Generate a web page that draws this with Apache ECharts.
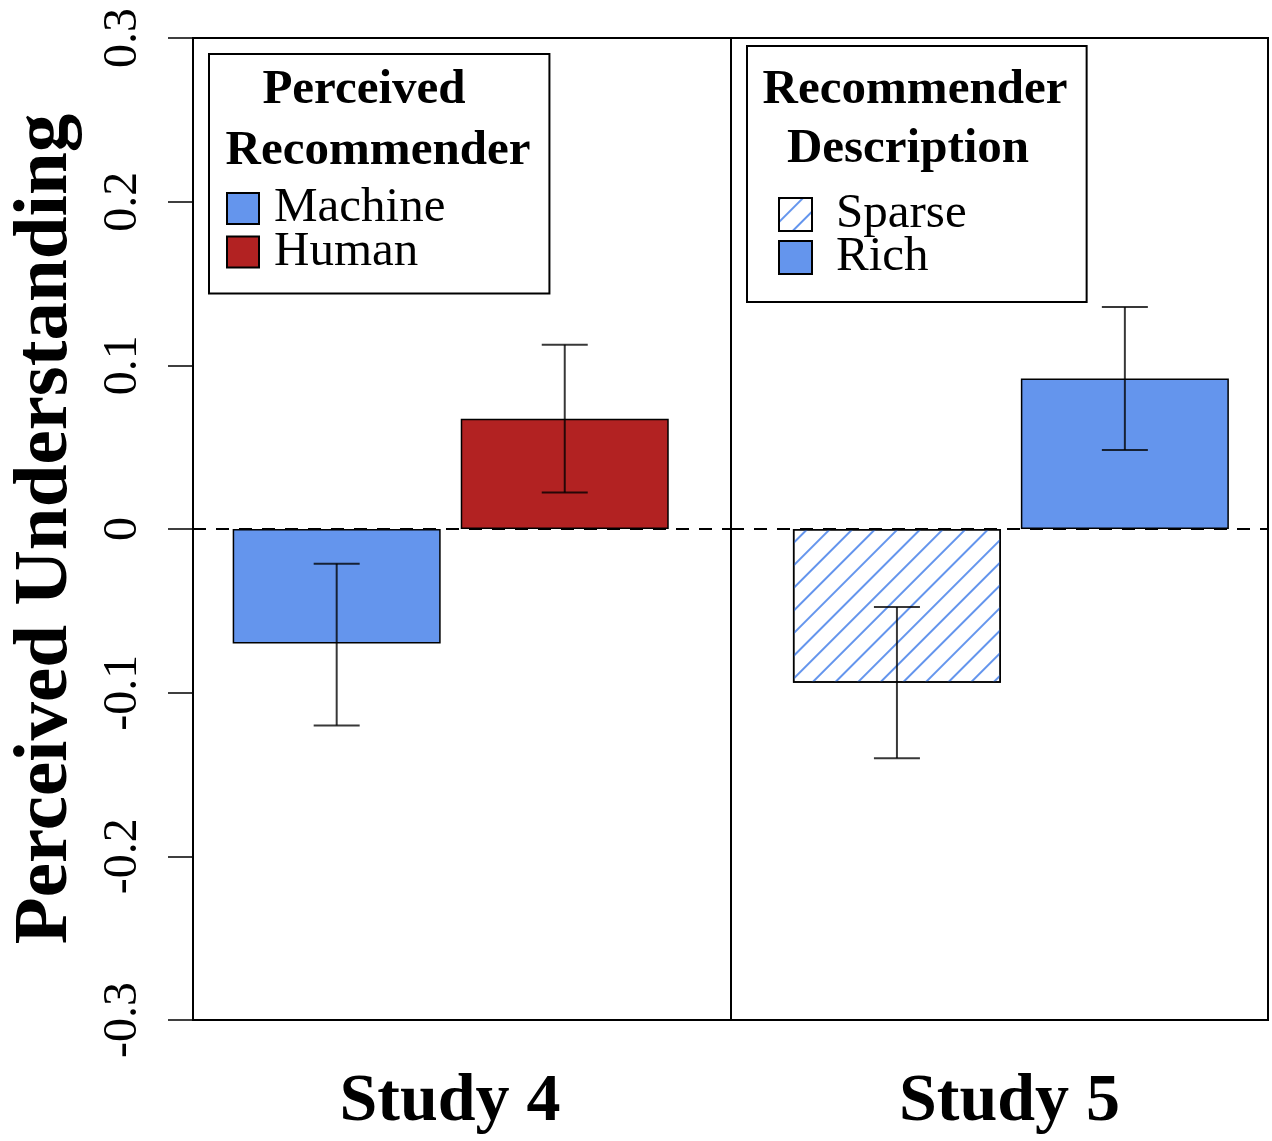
<!DOCTYPE html>
<html>
<head>
<meta charset="utf-8">
<script src="https://cdn.jsdelivr.net/npm/echarts@6/dist/echarts.min.js"></script>
<style>
  html, body { margin: 0; padding: 0; background: #fff; }
  #main { width: 1272px; height: 1141px; }
</style>
</head>
<body>
<div id="main"></div>
<script>
// values (mean and error bar ends)
const studies = ['Study 4', 'Study 5'];
const barPos = [1, 2];
const s4Groups = ['Machine', 'Human'];
const s4Means = [-0.0699, 0.0674];
const s4Lower = [-0.120, 0.0223];
const s4Upper = [-0.0212, 0.1126];
const s5Groups = ['Sparse', 'Rich'];
const s5Means = [-0.0939, 0.0920];
const s5Lower = [-0.140, 0.0483];
const s5Upper = [-0.0477, 0.1356];
const yTicks = [-0.3, -0.2, -0.1, 0, 0.1, 0.2, 0.3];

const SERIF = '"Liberation Serif", "Times New Roman", serif';
const BLUE = '#6495ED';
const RED = '#B22222';

const hatch = {
  symbol: 'rect',
  symbolSize: 1,
  color: BLUE,
  dashArrayX: [1, 0],
  dashArrayY: [2, 14],
  rotation: -Math.PI / 4
};

const myChart = echarts.init(document.getElementById('main'));

// 误差线
function errorSeries(name, gi, means, lo, hi) {
  return {
    name: name,
    type: 'custom',
    xAxisIndex: gi,
    yAxisIndex: gi,
    z: 5,
    silent: true,
    data: barPos.map((p, i) => [p, lo[i], hi[i]]),
    renderItem: function (params, api) {
      const low = api.coord([api.value(0), api.value(1)]);
      const high = api.coord([api.value(0), api.value(2)]);
      const hw = 23;
      const style = { stroke: 'rgba(0,0,0,0.78)', lineWidth: 2 };
      return {
        type: 'group',
        children: [
          { type: 'line', shape: { x1: low[0], y1: low[1], x2: high[0], y2: high[1] }, style: style },
          { type: 'line', shape: { x1: low[0] - hw, y1: low[1], x2: low[0] + hw, y2: low[1] }, style: style },
          { type: 'line', shape: { x1: high[0] - hw, y1: high[1], x2: high[0] + hw, y2: high[1] }, style: style }
        ]
      };
    }
  };
}

function barSeries(name, gi, idx, value, style, withZero) {
  const s = {
    name: name,
    type: 'bar',
    xAxisIndex: gi,
    yAxisIndex: gi,
    barWidth: 208,
    barGap: '-100%',
    data: [[barPos[idx], value]],
    itemStyle: Object.assign({ borderColor: '#000', borderWidth: 1.5 }, style),
    silent: true
  };
  if (withZero) {
    s.markLine = {
      silent: true,
      symbol: 'none',
      label: { show: false },
      lineStyle: { color: '#000', type: [13, 10], width: 2 },
      data: [{ yAxis: 0 }],
      z: 10
    };
  }
  return s;
}

function yAxis(gi, visible) {
  return {
    gridIndex: gi,
    type: 'value',
    min: yTicks[0],
    max: yTicks[yTicks.length - 1],
    interval: 0.1,
    show: visible,
    name: visible ? 'Perceived Understanding' : '',
    nameLocation: 'middle',
    nameRotate: 90,
    nameGap: 108,
    nameTextStyle: { fontFamily: SERIF, fontWeight: 'bold', fontSize: 77, color: '#000' },
    axisLine: { show: true, lineStyle: { color: '#000', width: 2 } },
    axisTick: { show: true, length: 25, lineStyle: { color: '#000', width: 1.5 } },
    axisLabel: {
      rotate: 90,
      margin: 46,
      fontFamily: SERIF,
      fontSize: 48,
      color: '#000',
      formatter: v => (Math.abs(v) < 1e-9 ? '0' : String(Math.round(v * 10) / 10))
    },
    splitLine: { show: false }
  };
}

function xAxis(gi, min, max, name, pad) {
  return {
    gridIndex: gi,
    type: 'value',
    min: min,
    max: max,
    name: name,
    nameLocation: 'middle',
    nameGap: 48,
    nameTextStyle: { fontFamily: SERIF, fontWeight: 'bold', fontSize: 68, color: '#000', padding: pad },
    axisLine: { show: false },
    axisTick: { show: false },
    axisLabel: { show: false },
    splitLine: { show: false }
  };
}

const legendText = { fontFamily: SERIF, fontSize: 49, color: '#000' };

const option = {
  animation: false,
  backgroundColor: '#fff',
  grid: [
    { left: 193, top: 38, width: 538, height: 983, show: true, borderColor: '#000', borderWidth: 2, backgroundColor: 'transparent' },
    { left: 731, top: 38, width: 537, height: 983, show: true, borderColor: '#000', borderWidth: 2, backgroundColor: 'transparent' }
  ],
  xAxis: [
    xAxis(0, 0.370, 2.729, studies[0], [0, 24, 0, 0]),
    xAxis(1, 0.272, 2.628, studies[1], [0, 0, 0, 20])
  ],
  yAxis: [yAxis(0, true), yAxis(1, false)],
  legend: [
    {
      data: s4Groups,
      orient: 'vertical',
      left: 209,
      top: 54,
      padding: [130, 104, 17, 17],
      borderColor: '#000',
      borderWidth: 2,
      itemWidth: 32,
      itemHeight: 31,
      itemGap: -5.5,
      selectedMode: false,
      icon: 'rect',
      textStyle: Object.assign({ lineHeight: 43.5, padding: [0, 0, 0, 10] }, legendText)
    },
    {
      data: s5Groups,
      orient: 'vertical',
      left: 747,
      top: 46,
      padding: [144, 120, 20, 31],
      borderColor: '#000',
      borderWidth: 2,
      itemWidth: 33,
      itemHeight: 33,
      itemGap: -6,
      selectedMode: false,
      icon: 'rect',
      textStyle: Object.assign({ lineHeight: 43, padding: [0, 0, 0, 19] }, legendText)
    }
  ],
  graphic: [
    { type: 'text', x: 364, y: 90, style: { text: 'Perceived', font: 'bold 49px ' + SERIF, align: 'center', verticalAlign: 'middle', fill: '#000' } },
    { type: 'text', x: 378, y: 151, style: { text: 'Recommender', font: 'bold 49px ' + SERIF, align: 'center', verticalAlign: 'middle', fill: '#000' } },
    { type: 'text', x: 915, y: 90, style: { text: 'Recommender', font: 'bold 49px ' + SERIF, align: 'center', verticalAlign: 'middle', fill: '#000' } },
    { type: 'text', x: 908, y: 149, style: { text: 'Description', font: 'bold 49px ' + SERIF, align: 'center', verticalAlign: 'middle', fill: '#000' } }
  ],
  series: [
    barSeries(s4Groups[0], 0, 0, s4Means[0], { color: BLUE }, true),
    barSeries(s4Groups[1], 0, 1, s4Means[1], { color: RED }, false),
    barSeries(s5Groups[0], 1, 0, s5Means[0], { color: '#fff', decal: hatch }, true),
    barSeries(s5Groups[1], 1, 1, s5Means[1], { color: BLUE }, false),
    errorSeries('err4', 0, s4Means, s4Lower, s4Upper),
    errorSeries('err5', 1, s5Means, s5Lower, s5Upper)
  ]
};

myChart.setOption(option);
</script>
</body>
</html>
